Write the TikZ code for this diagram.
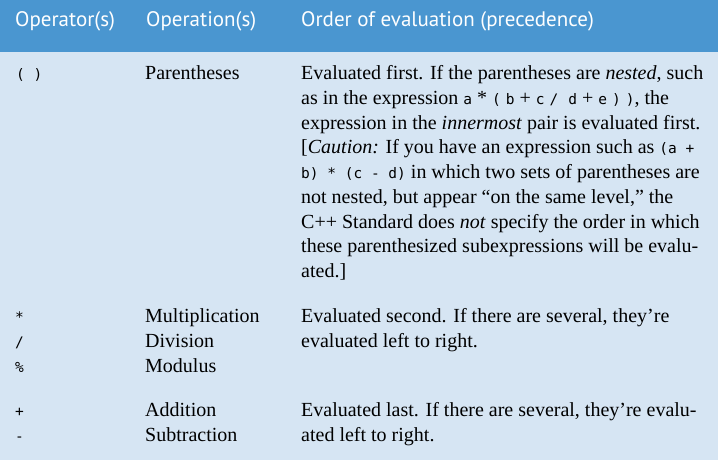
\documentclass[tikz,border=0pt]{standalone}
\usepackage{fontspec}
\setmainfont{Liberation Serif}
\setmonofont{DejaVu Sans Mono}
\newfontfamily\headfont{PT Sans}
\definecolor{headblue}{HTML}{4A96D0}
\definecolor{bodyblue}{HTML}{D6E5F3}
\newcommand{\opcode}[1]{{\ttfamily\fontsize{14.5}{24.75}\selectfont #1}}
\tikzset{
	headtext/.style={anchor=base west,inner sep=0pt,text=white,font=\headfont\fontsize{21}{24}\selectfont},
	celltext/.style={anchor=base west,inner sep=0pt,align=left,font=\fontsize{20}{24.75}\selectfont},
}
\begin{document}
\begin{tikzpicture}[x=1pt,y=-1pt]
	\useasboundingbox (0,0) rectangle (718,460);
	\fill[bodyblue] (0,0) rectangle (718,460);
	\fill[headblue] (0,0) rectangle (718,52);
	% header
	\node[headtext] (hop) at (15,27) {Operator(s)};
	\node[headtext] (hname) at (146,27) {Operation(s)};
	\node[headtext] (horder) at (301,27) {Order of evaluation (precedence)};
	% parentheses (nodes sit on the baseline of their last line)
	\node[celltext] (paren) at (16,79.5) {\opcode{( )}};
	\node[celltext] (parenname) at (145,79.5) {Parentheses};
	\node[celltext] (parenorder) at (301,277.5) {Evaluated first. If the parentheses are \emph{nested}, such\\
		as in the expression \opcode{a} * \opcode{(} \opcode{b} + \opcode{c} \opcode{/}\ \ \opcode{d} + \opcode{e} \opcode{)} \opcode{)}, the\\
		expression in the \emph{innermost} pair is evaluated first.\\
		{[}\emph{Caution:} If you have an expression such as \opcode{(a +}\\
		\opcode{b) * (c - d)} in which two sets of parentheses are\\
		not nested, but appear “on the same level,” the\\
		C++ Standard does \emph{not} specify the order in which\\
		these parenthesized subexpressions will be evalu-\\
		ated.]};
	% multiplicative
	\node[celltext] (mul) at (15,372) {\opcode{*}\\\opcode{/}\\\opcode{\%}};
	\node[celltext] (mulname) at (145,372) {Multiplication\\Division\\Modulus};
	\node[celltext] (mulorder) at (301,347.25) {Evaluated second. If there are several, they’re\\
		evaluated left to right.};
	% additive
	\node[celltext] (add) at (15,441.25) {\opcode{+}\\\opcode{-}};
	\node[celltext] (addname) at (145,441.25) {Addition\\Subtraction};
	\node[celltext] (addorder) at (301,441.25) {Evaluated last. If there are several, they’re evalu-\\
		ated left to right.};
\end{tikzpicture}
\end{document}
